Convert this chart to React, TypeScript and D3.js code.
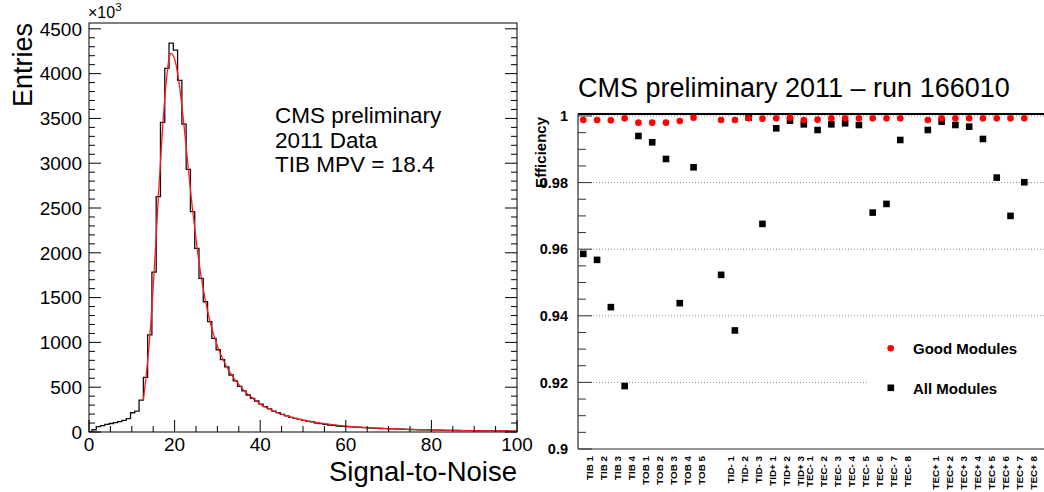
import React from 'react';
import * as d3 from 'd3';

// ---------- Left panel: Signal-to-Noise histogram ----------
const histCounts = [
  5, 25, 60, 72, 84, 95, 105, 115, 130, 150,
  215, 232, 355, 610, 1083, 1785, 2626, 3455, 4059, 4340,
  4263, 3925, 3437, 2932, 2459, 2050, 1715, 1454, 1231, 1045,
  918, 808, 727, 636, 570, 510, 458, 413, 376, 346,
  312, 283, 257, 234, 216, 197, 179, 164, 153, 142,
  130, 119, 112, 100, 93, 86, 78, 75, 67, 63,
  60, 57, 54, 51, 48, 46, 44, 41, 39, 37,
  36, 34, 32, 31, 29, 28, 27, 25, 24, 23,
  22, 21, 20, 19, 19, 18, 17, 16, 16, 15,
  14, 14, 13, 13, 12, 12, 11, 11, 10, 10,
  10,
];
const binStart = -0.3;
const binWidth = 1;

const fitX = [12.7, 13.2, 14.2, 15.2, 16.2, 17.2, 18.2, 18.7, 19.2, 19.7, 20.2, 21.2, 22.2, 23.2, 24.2, 25.2, 26.2, 27.2, 28.2, 29.2, 30.2, 31.2, 32.2, 33.2, 34.2, 35.2, 36.2, 37.2, 38.2, 39.2, 40.2, 42, 44, 46, 48, 50, 52, 55, 60, 65, 70, 75, 80, 85, 90, 95, 100];
const fitY = [350, 560, 1060, 1770, 2620, 3400, 3980, 4170, 4225, 4200, 4130, 3840, 3420, 2940, 2480, 2075, 1735, 1465, 1250, 1075, 935, 820, 725, 645, 578, 520, 465, 418, 378, 344, 305, 260, 215, 182, 155, 133, 115, 93, 66, 49, 37, 29, 23, 18, 15, 12, 10];

const leftYTicks = [0, 500, 1000, 1500, 2000, 2500, 3000, 3500, 4000, 4500];
const leftXTicks = [0, 20, 40, 60, 80, 100];
const infoLines = ['CMS preliminary', '2011 Data', 'TIB MPV = 18.4'];

// ---------- Right panel: efficiency per layer ----------
const layerLabels = [
  'TIB 1', 'TIB 2', 'TIB 3', 'TIB 4', 'TOB 1', 'TOB 2', 'TOB 3', 'TOB 4', 'TOB 5', '',
  'TID- 1', 'TID- 2', 'TID- 3', 'TID+ 1', 'TID+ 2', 'TID+ 3',
  'TEC- 1', 'TEC- 2', 'TEC- 3', 'TEC- 4', 'TEC- 5', 'TEC- 6', 'TEC- 7', 'TEC- 8', '',
  'TEC+ 1', 'TEC+ 2', 'TEC+ 3', 'TEC+ 4', 'TEC+ 5', 'TEC+ 6', 'TEC+ 7', 'TEC+ 8',
];
const allModules: (number | null)[] = [
  0.9586, 0.9568, 0.9426, 0.9189, 0.994, 0.9921, 0.9871, 0.9438, 0.9846, null,
  0.9523, 0.9356, 0.9995, 0.9676, 0.9963, 0.9986,
  0.9975, 0.9958, 0.9975, 0.9978, 0.9973, 0.971, 0.9736, 0.9928, null,
  0.9958, 0.9983, 0.9973, 0.9968, 0.9931, 0.9815, 0.97, 0.9801,
];
const goodModules: (number | null)[] = [
  0.9988, 0.9988, 0.9987, 0.9993, 0.998, 0.998, 0.998, 0.9985, 0.9995, null,
  0.9988, 0.9988, 0.9993, 0.9992, 0.9993, 0.9995,
  0.9988, 0.9989, 0.9993, 0.9993, 0.9993, 0.9993, 0.9993, 0.9993, null,
  0.9988, 0.9993, 0.9993, 0.9993, 0.9993, 0.9993, 0.9993, 0.9993,
];
const effTicks = [0.9, 0.92, 0.94, 0.96, 0.98, 1];
const effTickLabels = ['0.9', '0.92', '0.94', '0.96', '0.98', '1'];
const legendItems = ['Good Modules', 'All Modules'];

const FONT = "'Liberation Sans', Arial, Helvetica, sans-serif";

function LeftPanel() {
  const L = 89, R = 517, T = 23, B = 432;
  const x = d3.scaleLinear().domain([0, 100]).range([L, R]);
  const y = d3.scaleLinear().domain([0, 4565]).range([B, T]);

  // histogram step path
  let p = `M${x(0)},${y(0)}`;
  histCounts.forEach((v, k) => {
    const x0 = Math.max(0, binStart + k * binWidth);
    const x1 = Math.min(100, binStart + (k + 1) * binWidth);
    if (x1 <= x0) return;
    p += `L${x(x0)},${y(v)}L${x(x1)},${y(v)}`;
  });
  p += `L${x(100)},${y(0)}`;

  const fitLine = d3
    .line<number>()
    .x((_, i) => x(fitX[i]))
    .y((d) => y(d))
    .curve(d3.curveMonotoneX)(fitY) as string;

  const yMinor = d3.range(0, 4565, 100);
  const xMinor = d3.range(0, 101, 5);

  return (
    <g>
      <rect x={L} y={T} width={R - L} height={B - T} fill="#fff" stroke="#000" strokeWidth={1} />
      <defs>
        <clipPath id="lclip">
          <rect x={L} y={T} width={R - L} height={B - T} />
        </clipPath>
      </defs>
      <g clipPath="url(#lclip)">
        <path d={p} fill="none" stroke="#111" strokeWidth={1.3} />
        <path d={fitLine} fill="none" stroke="#ff1a1a" strokeWidth={1.3} />
      </g>
      {yMinor.map((v) => {
        const major = v % 500 === 0;
        const len = major ? 12 : 6;
        return (
          <g key={'yt' + v}>
            <line x1={L} x2={L + len} y1={y(v)} y2={y(v)} stroke="#000" strokeWidth={1} />
            <line x1={R} x2={R - len} y1={y(v)} y2={y(v)} stroke="#000" strokeWidth={1} />
          </g>
        );
      })}
      {xMinor.map((v) => {
        const major = v % 20 === 0;
        const len = major ? 12 : 6;
        return <line key={'xt' + v} x1={x(v)} x2={x(v)} y1={B} y2={B - len} stroke="#000" strokeWidth={1} />;
      })}
      {leftYTicks.map((v) => (
        <text key={'yl' + v} x={82} y={y(v)} dy="0.36em" textAnchor="end" fontSize={19} fontFamily={FONT} fill="#000">
          {v}
        </text>
      ))}
      {leftXTicks.map((v) => (
        <text key={'xl' + v} x={x(v)} y={451} textAnchor="middle" fontSize={19} fontFamily={FONT} fill="#000">
          {v}
        </text>
      ))}
      <text x={88} y={18} fontSize={16} fontFamily={FONT} fill="#000">
        ×10<tspan fontSize={11.5} dy={-7}>3</tspan>
      </text>
      <text
        transform="translate(32,23) rotate(-90)"
        textAnchor="end"
        fontSize={27}
        fontFamily={FONT}
        fill="#000"
      >
        Entries
      </text>
      <text x={517} y={481} textAnchor="end" fontSize={27.5} fontFamily={FONT} fill="#000">
        Signal-to-Noise
      </text>
      {infoLines.map((s, i) => (
        <text key={s} x={275} y={123 + i * 24.5} fontSize={22.5} fontFamily={FONT} fill="#000">
          {s}
        </text>
      ))}
    </g>
  );
}

function RightPanel() {
  const L = 578, R = 1046, T = 114, B = 449;
  const x = d3.scaleLinear().domain([0, 32]).range([583.3, 1024.3]);
  const labelX = d3.scaleLinear().domain([0, 32]).range([589.3, 1037.3]);
  const y = d3.scaleLinear().domain([0.9, 1.0006]).range([B, T]);
  const labelShift = (s: string) => (s.startsWith('TID') ? 1.4 : s.startsWith('TEC') ? -4 : 0);
  const minor = d3.range(0, 21).map((i) => 0.9 + i * 0.005);

  return (
    <g fontFamily={FONT}>
      <text x={578} y={97} fontSize={27} fill="#000">
        CMS preliminary 2011 – run 166010
      </text>
      {effTicks.map((v) => (
        <line key={'g' + v} x1={L} x2={R} y1={y(v)} y2={y(v)} stroke="#8a8a8a" strokeWidth={1} strokeDasharray="1 2" />
      ))}
      <rect x={868} y={326} width={180} height={84} fill="#fff" />
      <line x1={L} x2={R} y1={T} y2={T} stroke="#000" strokeWidth={2.2} />
      <line x1={L} x2={L} y1={T} y2={B} stroke="#555" strokeWidth={1.5} />
      <line x1={L} x2={R} y1={B} y2={B} stroke="#777" strokeWidth={1.5} />
      {minor.map((v, i) => {
        const major = i % 4 === 0;
        return (
          <line key={'t' + i} x1={L} x2={L + (major ? 14 : 8)} y1={y(v)} y2={y(v)} stroke="#333" strokeWidth={1} />
        );
      })}
      {effTicks.map((v, i) => (
        <text key={'el' + v} x={568} y={y(v)} dy="0.36em" textAnchor="end" fontSize={14.5} fontWeight="bold" fill="#000">
          {effTickLabels[i]}
        </text>
      ))}
      <text transform="translate(546,117) rotate(-90)" textAnchor="end" fontSize={15} fontWeight="bold" fill="#000">
        Efficiency
      </text>
      {layerLabels.map((s, i) =>
        s ? (
          <text
            key={'lb' + i}
            transform={`translate(${labelX(i) + labelShift(s)},456) rotate(-90)`}
            dy="0.35em"
            textAnchor="end"
            fontSize={9.8}
            fontWeight="bold"
            fill="#000"
          >
            {s}
          </text>
        ) : null
      )}
      {allModules.map((v, i) =>
        v == null ? null : <rect key={'a' + i} x={x(i) - 3.3} y={y(v) - 3.3} width={6.6} height={6.6} fill="#000" />
      )}
      {goodModules.map((v, i) =>
        v == null ? null : <circle key={'g' + i} cx={x(i)} cy={y(v)} r={3.3} fill="#ff0000" />
      )}
      <circle cx={890.7} cy={348.3} r={3.3} fill="#ff0000" />
      <text x={913} y={354} fontSize={15} fontWeight="bold" fill="#000">
        {legendItems[0]}
      </text>
      <rect x={887.5} y={384.5} width={6.6} height={6.6} fill="#000" />
      <text x={913} y={394} fontSize={15} fontWeight="bold" fill="#000">
        {legendItems[1]}
      </text>
    </g>
  );
}

export default function App() {
  return (
    <svg
      width={1044}
      height={492}
      viewBox="0 0 1044 492"
      style={{ position: 'absolute', left: 0, top: 0, background: '#fff' }}
    >
      <rect x={0} y={0} width={1044} height={492} fill="#fff" />
      <LeftPanel />
      <RightPanel />
    </svg>
  );
}
